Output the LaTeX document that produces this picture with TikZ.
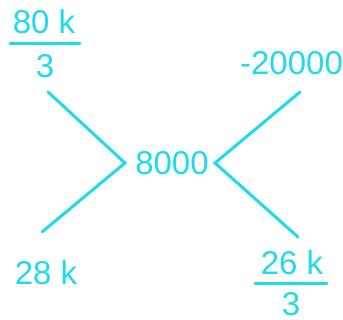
\documentclass[tikz,border=0pt]{standalone}
\usepackage{fontspec}
\setmainfont{Liberation Sans}
\definecolor{cy}{HTML}{1FDAEC}
\begin{document}
\begin{tikzpicture}[x=1pt,y=-1pt,
  lbl/.style={text=cy,font=\fontsize{33}{36}\selectfont,inner sep=0pt,anchor=base},
  ln/.style={draw=cy,line width=3pt,line cap=round,line join=miter}]
\useasboundingbox (0,0) rectangle (343,320);
\node[lbl] (n1) at (44,34) {80 k};
\node[lbl] (d1) at (45,78) {3};
\draw[ln] (10,44) -- (80,44);
\node[lbl] (n2) at (291.5,75) {-20000};
\node[lbl] (c) at (172,175) {8000};
\node[lbl] (n3) at (46,285) {28 k};
\node[lbl] (n4) at (292,275) {26 k};
\draw[ln] (255,284) -- (327,284);
\node[lbl] (d4) at (291,316) {3};
\coordinate (la) at (125,163);
\coordinate (ra) at (215,163);
\coordinate (lt) at (48,92);
\coordinate (lb) at (42,232);
\coordinate (rt) at (300,92);
\coordinate (rb) at (298,237);
\draw[ln] (lt) -- (la) -- (lb);
\draw[ln] (rt) -- (ra) -- (rb);
\end{tikzpicture}
\end{document}
